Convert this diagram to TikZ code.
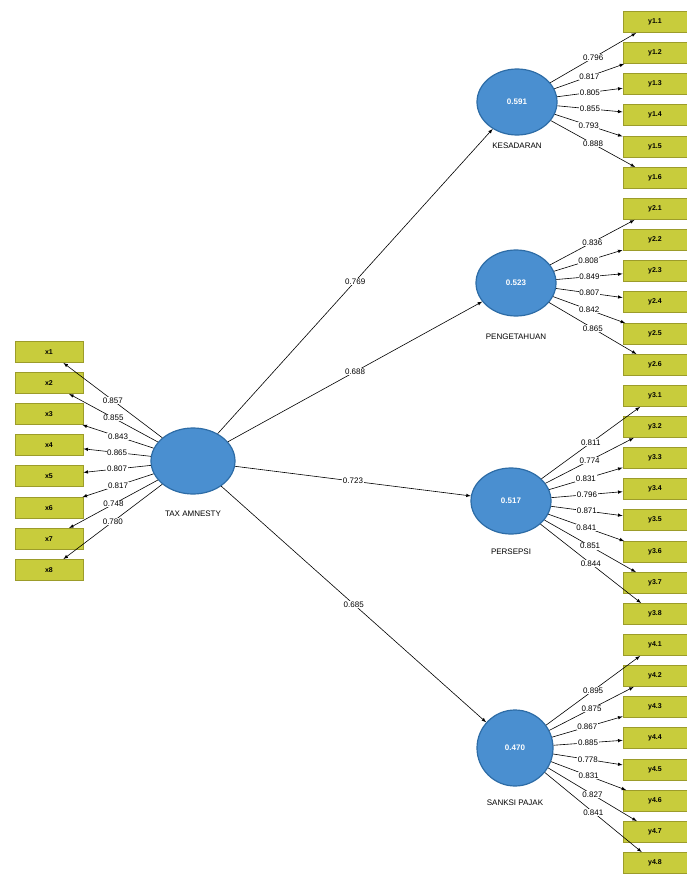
\documentclass[tikz,border=0pt]{standalone}
\usepackage{fontspec}
\setmainfont{Liberation Sans}
\usepackage{tikz}
\usetikzlibrary{shapes.geometric}

\definecolor{boxfill}{HTML}{C8CC3C}
\definecolor{boxline}{HTML}{9C9C2A}
\definecolor{latentfill}{HTML}{4A8FD0}
\definecolor{latentline}{HTML}{2D6CA6}

\tikzset{
    indicator/.style = {draw = boxline, fill = boxfill, line width = 0.8pt,
        minimum width = 64pt, minimum height = 21pt, inner sep = 0pt,
        font = \fontsize{7}{8}\selectfont\bfseries},
    latent/.style = {ellipse, draw = latentline, fill = latentfill, line width = 1.2pt,
        minimum width = 80pt, minimum height = 66pt, inner sep = 0pt,
        text = white, font = \fontsize{8}{9}\selectfont\bfseries},
    caption/.style = {font = \fontsize{8}{9}\selectfont},
    load/.style = {fill = white, inner sep = 0.6pt, font = \fontsize{8}{9}\selectfont}
}

\begin{document}
\begin{tikzpicture}[x = 1pt, y = -1pt, >=latex, line width = 0.6pt]
        \useasboundingbox (0,0) rectangle (687,877);

        % latent variables
        \node (tax)[latent, minimum width = 84pt] at (193,461) {};
        \node (tax_lbl)[caption] at (193,514) {TAX AMNESTY};
        \node (kesadaran)[latent] at (517,102) {0.591};
        \node (kesadaran_lbl)[caption] at (517,146) {KESADARAN};
        \node (pengetahuan)[latent] at (516,283) {0.523};
        \node (pengetahuan_lbl)[caption] at (516,337) {PENGETAHUAN};
        \node (persepsi)[latent] at (511,501) {0.517};
        \node (persepsi_lbl)[caption] at (511,552) {PERSEPSI};
        \node (sanksi)[latent, minimum width = 76pt, minimum height = 76pt] at (515,748) {0.470};
        \node (sanksi_lbl)[caption] at (515,803) {SANKSI PAJAK};

        % indicators of tax amnesty
        \node (x1)[indicator, minimum width = 68pt] at (49,352) {x1};
        \node (x2)[indicator, minimum width = 68pt] at (49,383) {x2};
        \node (x3)[indicator, minimum width = 68pt] at (49,414) {x3};
        \node (x4)[indicator, minimum width = 68pt] at (49,445) {x4};
        \node (x5)[indicator, minimum width = 68pt] at (49,476) {x5};
        \node (x6)[indicator, minimum width = 68pt] at (49,508) {x6};
        \node (x7)[indicator, minimum width = 68pt] at (49,539) {x7};
        \node (x8)[indicator, minimum width = 68pt] at (49,570) {x8};

        % indicators on the right
        \node (y11)[indicator] at (655,22) {y1.1};
        \node (y12)[indicator] at (655,53) {y1.2};
        \node (y13)[indicator] at (655,84) {y1.3};
        \node (y14)[indicator] at (655,115) {y1.4};
        \node (y15)[indicator] at (655,147) {y1.5};
        \node (y16)[indicator] at (655,178) {y1.6};
        \node (y21)[indicator] at (655,209) {y2.1};
        \node (y22)[indicator] at (655,240) {y2.2};
        \node (y23)[indicator] at (655,271) {y2.3};
        \node (y24)[indicator] at (655,302) {y2.4};
        \node (y25)[indicator] at (655,334) {y2.5};
        \node (y26)[indicator] at (655,365) {y2.6};
        \node (y31)[indicator] at (655,396) {y3.1};
        \node (y32)[indicator] at (655,427) {y3.2};
        \node (y33)[indicator] at (655,458) {y3.3};
        \node (y34)[indicator] at (655,489) {y3.4};
        \node (y35)[indicator] at (655,520) {y3.5};
        \node (y36)[indicator] at (655,552) {y3.6};
        \node (y37)[indicator] at (655,583) {y3.7};
        \node (y38)[indicator] at (655,614) {y3.8};
        \node (y41)[indicator] at (655,645) {y4.1};
        \node (y42)[indicator] at (655,676) {y4.2};
        \node (y43)[indicator] at (655,707) {y4.3};
        \node (y44)[indicator] at (655,738) {y4.4};
        \node (y45)[indicator] at (655,770) {y4.5};
        \node (y46)[indicator] at (655,801) {y4.6};
        \node (y47)[indicator] at (655,832) {y4.7};
        \node (y48)[indicator] at (655,863) {y4.8};

        % paths
        \path(tax) edge[->] node[load] {0.769} (kesadaran);
        \path(tax) edge[->] node[load] {0.688} (pengetahuan);
        \path(tax) edge[->] node[load] {0.723} (persepsi);
        \path(tax) edge[->] node[load] {0.685} (sanksi);

        % loadings
        \path(tax) edge[->] node[load] {0.857} (x1);
        \path(tax) edge[->] node[load] {0.855} (x2);
        \path(tax) edge[->] node[load] {0.843} (x3);
        \path(tax) edge[->] node[load] {0.865} (x4);
        \path(tax) edge[->] node[load] {0.807} (x5);
        \path(tax) edge[->] node[load] {0.817} (x6);
        \path(tax) edge[->] node[load] {0.748} (x7);
        \path(tax) edge[->] node[load] {0.780} (x8);

        \path(kesadaran) edge[->] node[load] {0.796} (y11);
        \path(kesadaran) edge[->] node[load] {0.817} (y12);
        \path(kesadaran) edge[->] node[load] {0.805} (y13);
        \path(kesadaran) edge[->] node[load] {0.855} (y14);
        \path(kesadaran) edge[->] node[load] {0.793} (y15);
        \path(kesadaran) edge[->] node[load] {0.888} (y16);

        \path(pengetahuan) edge[->] node[load] {0.836} (y21);
        \path(pengetahuan) edge[->] node[load] {0.808} (y22);
        \path(pengetahuan) edge[->] node[load] {0.849} (y23);
        \path(pengetahuan) edge[->] node[load] {0.807} (y24);
        \path(pengetahuan) edge[->] node[load] {0.842} (y25);
        \path(pengetahuan) edge[->] node[load] {0.865} (y26);

        \path(persepsi) edge[->] node[load] {0.811} (y31);
        \path(persepsi) edge[->] node[load] {0.774} (y32);
        \path(persepsi) edge[->] node[load] {0.831} (y33);
        \path(persepsi) edge[->] node[load] {0.796} (y34);
        \path(persepsi) edge[->] node[load] {0.871} (y35);
        \path(persepsi) edge[->] node[load] {0.841} (y36);
        \path(persepsi) edge[->] node[load] {0.851} (y37);
        \path(persepsi) edge[->] node[load] {0.844} (y38);

        \path(sanksi) edge[->] node[load] {0.895} (y41);
        \path(sanksi) edge[->] node[load] {0.875} (y42);
        \path(sanksi) edge[->] node[load] {0.867} (y43);
        \path(sanksi) edge[->] node[load] {0.885} (y44);
        \path(sanksi) edge[->] node[load] {0.778} (y45);
        \path(sanksi) edge[->] node[load] {0.831} (y46);
        \path(sanksi) edge[->] node[load] {0.827} (y47);
        \path(sanksi) edge[->] node[load] {0.841} (y48);
    \end{tikzpicture}
\end{document}
